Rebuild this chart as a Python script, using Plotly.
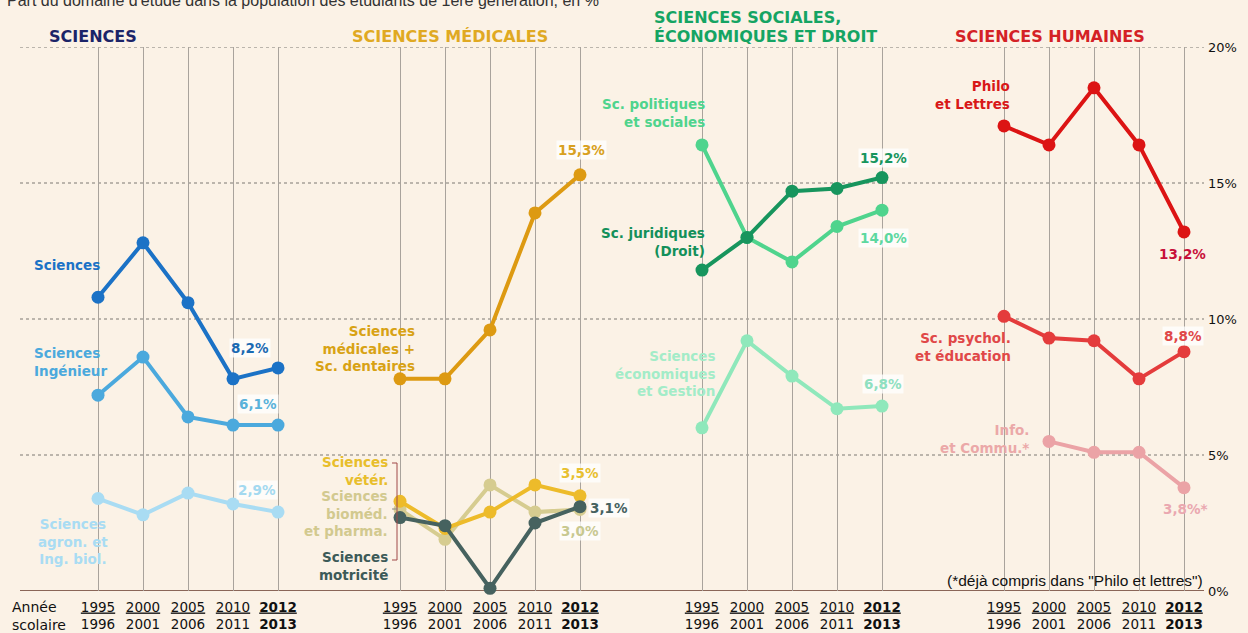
import plotly.graph_objects as go

W, H = 1248, 633

# ---------------- data ----------------
years = ["1995", "2000", "2005", "2010", "2012"]
year_ticktext = ["<u>1995</u><br>1996", "<u>2000</u><br>2001", "<u>2005</u><br>2006",
                 "<u>2010</u><br>2011", "<b><u>2012</u><br>2013</b>"]
y_ticks = [0, 5, 10, 15, 20]

sciences = [10.8, 12.8, 10.6, 7.8, 8.2]
sc_ingenieur = [7.2, 8.6, 6.4, 6.1, 6.1]
sc_agron = [3.4, 2.8, 3.6, 3.2, 2.9]

sc_medicales = [7.8, 7.8, 9.6, 13.9, 15.3]
sc_veter = [3.3, 2.3, 2.9, 3.9, 3.5]
sc_biomed = [3.0, 1.9, 3.9, 2.9, 3.0]
sc_motricite = [2.7, 2.4, 0.1, 2.5, 3.1]

sc_politiques = [16.4, 13.0, 12.1, 13.4, 14.0]
sc_juridiques = [11.8, 13.0, 14.7, 14.8, 15.2]
sc_economiques = [6.0, 9.2, 7.9, 6.7, 6.8]

philo_lettres = [17.1, 16.4, 18.5, 16.4, 13.2]
sc_psychol = [10.1, 9.3, 9.2, 7.8, 8.8]
info_commu = [None, 5.5, 5.1, 5.1, 3.8]

FONT = "DejaVu Sans"
FONT2 = "Liberation Sans"
BG = "#fbf2e6"


def px(x):
    return x / W


def py(y):
    return 1 - y / H


fig = go.Figure()

panels = [
    ("x", [(sc_agron, "#a9dcf3"), (sc_ingenieur, "#4ba9dd"), (sciences, "#1b72c6")]),
    ("x2", [(sc_biomed, "#d6cc90"), (sc_veter, "#edbb2a"), (sc_medicales, "#dd9a12"),
            (sc_motricite, "#46625f")]),
    ("x3", [(sc_economiques, "#8fe8bb"), (sc_politiques, "#4fd48d"), (sc_juridiques, "#17955d")]),
    ("x4", [(info_commu, "#eba3a6"), (sc_psychol, "#e43c3c"), (philo_lettres, "#dc1414")]),
]
for xa, series in panels:
    for vals, col in series:
        fig.add_trace(go.Scatter(
            x=years, y=vals, xaxis=xa, yaxis="y", mode="lines+markers",
            line=dict(color=col, width=4), marker=dict(color=col, size=13),
            cliponaxis=False, showlegend=False, hoverinfo="skip"))

# axes
ydom = [py(591), py(47)]
centers0 = [98, 400, 702, 1004]
for i, c0 in enumerate(centers0):
    name = "xaxis" if i == 0 else f"xaxis{i+1}"
    fig.layout[name] = dict(
        domain=[px(c0 - 22.5), px(c0 + 202.5)], anchor="y", type="category",
        categoryorder="array", categoryarray=years, range=[-0.5, 4.5],
        tickvals=years, ticktext=year_ticktext, ticks="", showline=False,
        showgrid=True, gridcolor="#a9a39c", gridwidth=1, zeroline=False,
        automargin=False, ticklabelstandoff=6,
        tickfont=dict(family=FONT, size=13.5, color="#111"), fixedrange=True)

fig.update_layout(
    yaxis=dict(domain=ydom, range=[0, 20], anchor="free", position=px(1207), side="right",
               tickvals=y_ticks, ticktext=[f"{v}%" for v in y_ticks], showgrid=False,
               zeroline=False, showline=False, ticks="", automargin=False,
               tickfont=dict(family=FONT, size=13, color="#111"), fixedrange=True),
    width=W, height=H, margin=dict(l=0, r=0, t=0, b=0, autoexpand=False),
    paper_bgcolor=BG, plot_bgcolor=BG,
)

shapes = []
for v in y_ticks[1:]:
    shapes.append(dict(type="line", xref="paper", yref="y", x0=px(20), x1=px(1204), y0=v, y1=v,
                       line=dict(color="#7d7873", width=1, dash="dot"), layer="below"))
shapes.append(dict(type="line", xref="paper", yref="y", x0=px(20), x1=px(1204), y0=0, y1=0,
                   line=dict(color="#8a6658", width=2), layer="below"))
# bracket in medical panel
shapes += [
    dict(type="line", xref="paper", yref="paper", x0=px(397), x1=px(397), y0=py(463), y1=py(560),
         line=dict(color="#a04848", width=1)),
    dict(type="line", xref="paper", yref="paper", x0=px(392), x1=px(397), y0=py(463), y1=py(463),
         line=dict(color="#a04848", width=1)),
    dict(type="line", xref="paper", yref="paper", x0=px(392), x1=px(397), y0=py(560), y1=py(560),
         line=dict(color="#a04848", width=1)),
    dict(type="line", xref="paper", yref="paper", x0=px(392), x1=px(397), y0=py(509), y1=py(509),
         line=dict(color="#888", width=1)),
]
fig.update_layout(shapes=shapes)

ann = []


def add(text, x, y, color, size=13.5, bold=True, xanchor="center", align="center", bg=None,
        family=FONT):
    t = f"<b>{text}</b>" if bold else text
    d = dict(text=t, x=px(x), y=py(y), xref="paper", yref="paper", showarrow=False,
             xanchor=xanchor, yanchor="middle", align=align,
             font=dict(family=family, size=size, color=color))
    if bg:
        d["bgcolor"] = bg
        d["borderpad"] = 1
    ann.append(d)


add("Part du domaine d'étude dans la population des étudiants de 1ère génération, en %",
    5, 0, "#333", size=16, bold=False, xanchor="left", align="left", family=FONT2)
# panel titles
add("SCIENCES", 93, 36, "#1b2468", size=16)
add("SCIENCES MÉDICALES", 450, 36, "#e0a922", size=16)
add("SCIENCES SOCIALES,", 652, 18, "#15a463", size=16, xanchor="left", align="left")
add("ÉCONOMIQUES ET DROIT", 652, 36, "#15a463", size=16, xanchor="left", align="left")
add("SCIENCES HUMAINES", 1050, 36, "#d42126", size=16)

# series labels
add("Sciences", 32, 265, "#1b72c6", xanchor="left", align="left")
add("Sciences<br>Ingénieur", 32, 362, "#4ba9dd", xanchor="left", align="left")
add("Sciences<br>agron. et<br>Ing. biol.", 73, 541, "#a9dcf3")
add("Sciences<br>médicales +<br>Sc. dentaires", 417, 348, "#d8a214", xanchor="right", align="right")
add("Sciences<br>vétér.", 390, 471, "#e8be2c", xanchor="right", align="right")
add("Sciences<br>bioméd.<br>et pharma.", 390, 513, "#d2c98f", xanchor="right", align="right")
add("Sciences<br>motricité", 390, 566, "#3c5a58", xanchor="right", align="right")
add("Sc. politiques<br>et sociales", 707, 113, "#4fd48d", xanchor="right", align="right")
add("Sc. juridiques<br>(Droit)", 707, 242, "#13905a", xanchor="right", align="right")
add("Sciences<br>économiques<br>et Gestion", 717, 373, "#a3ecc8", xanchor="right", align="right")
add("Philo<br>et Lettres", 1012, 95, "#d81818", xanchor="right", align="right")
add("Sc. psychol.<br>et éducation", 1013, 347, "#e04848", xanchor="right", align="right")
add("Info.<br>et Commu.*", 1031, 439, "#eba8a8", xanchor="right", align="right")
add("(*déjà compris dans \"Philo et lettres\")", 1205, 580, "#111", size=15.5, bold=False,
    xanchor="right", align="right", family=FONT2)

# value labels
wbg = "rgba(255,255,255,0.75)"
add("8,2%", 250, 348, "#1b6ab2", bg=wbg)
add("6,1%", 258, 404, "#5ab2da", bg=wbg)
add("2,9%", 257, 490, "#a3d9f0", bg=wbg)
add("15,3%", 581, 150, "#d8a020", bg=wbg)
add("3,5%", 580, 473, "#e8c030", bg=wbg)
add("3,1%", 588, 508, "#46625f", xanchor="left", bg=wbg)
add("3,0%", 580, 531, "#c8c890", bg=wbg)
add("15,2%", 883, 158, "#17955d", bg=wbg)
add("14,0%", 883, 238, "#5dd8a0", bg=wbg)
add("6,8%", 883, 384, "#8fe0c0", bg=wbg)
add("13,2%", 1182, 254, "#c8103a")
add("8,8%", 1183, 336, "#e04848", bg=wbg)
add("3,8%*", 1185, 509, "#eaa8b0")

# axis caption
add("Année", 10, 607, "#111", size=14, bold=False, xanchor="left", align="left")
add("scolaire", 10, 625, "#111", size=14, bold=False, xanchor="left", align="left")

fig.update_layout(annotations=ann)

fig.write_html("out.html")
